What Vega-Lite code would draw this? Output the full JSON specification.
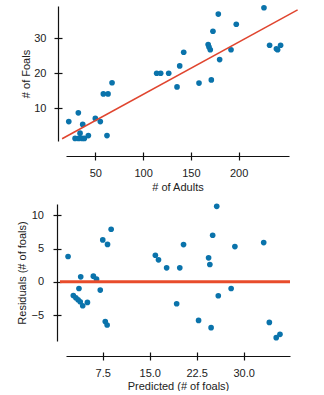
{
  "$schema": "https://vega.github.io/schema/vega-lite/v6.json",
  "autosize": "pad",
  "padding": {"left": 16, "top": 4, "right": 0, "bottom": 0},
  "background": "white",
  "spacing": 11,
  "align": "none",
  "config": {
    "view": {"stroke": null},
    "axis": {
      "grid": false,
      "labelFont": "Liberation Sans",
      "titleFont": "Liberation Sans",
      "labelFontSize": 11,
      "titleFontSize": 11,
      "titleFontWeight": "normal",
      "labelColor": "#222222",
      "titleColor": "#222222",
      "domainColor": "#111111",
      "tickColor": "#111111",
      "domainWidth": 1.2,
      "tickWidth": 1.2
    }
  },
  "vconcat": [
    {
      "width": 223,
      "height": 135,
      "layer": [
        {
          "data": {"values": [
            {"adults": 22.2, "foals": 6.2}, {"adults": 32.2, "foals": 8.7}, {"adults": 36.8, "foals": 5.4},
            {"adults": 34, "foals": 2.9}, {"adults": 28.8, "foals": 1.4}, {"adults": 32.5, "foals": 1.4},
            {"adults": 36, "foals": 1.4}, {"adults": 38.5, "foals": 1.4}, {"adults": 42.7, "foals": 2.2},
            {"adults": 50, "foals": 7.1}, {"adults": 55.2, "foals": 6.2}, {"adults": 62.2, "foals": 2.2},
            {"adults": 58.4, "foals": 14.1}, {"adults": 63.3, "foals": 14.1}, {"adults": 67.5, "foals": 17.3},
            {"adults": 114.2, "foals": 20}, {"adults": 118.4, "foals": 20}, {"adults": 126.8, "foals": 20},
            {"adults": 135.5, "foals": 16.1}, {"adults": 138.3, "foals": 22.1}, {"adults": 142.5, "foals": 26},
            {"adults": 158.5, "foals": 17.2}, {"adults": 168.1, "foals": 28.2}, {"adults": 170.3, "foals": 26.7},
            {"adults": 169, "foals": 27.5}, {"adults": 171.4, "foals": 18.1}, {"adults": 173.1, "foals": 32},
            {"adults": 178.7, "foals": 36.9}, {"adults": 180.1, "foals": 23.9}, {"adults": 192, "foals": 26.7},
            {"adults": 197.5, "foals": 34}, {"adults": 226.5, "foals": 38.7}, {"adults": 232.4, "foals": 28},
            {"adults": 240.8, "foals": 26.7}, {"adults": 239.5, "foals": 27}, {"adults": 243.9, "foals": 28}
          ]},
          "mark": {"type": "circle", "size": 32, "opacity": 1, "color": "#0a73ab"},
          "encoding": {
            "x": {"field": "adults", "type": "quantitative",
              "scale": {"domain": [19.3, 252.7], "nice": false, "zero": false},
              "axis": {"title": "# of Adults", "values": [50, 100, 150, 200], "offset": 15, "tickSize": 4, "labelPadding": 7.5, "titlePadding": 2.5}},
            "y": {"field": "foals", "type": "quantitative",
              "scale": {"domain": [0.66, 39.2], "nice": false, "zero": false},
              "axis": {"title": "# of Foals", "values": [10, 20, 30], "offset": 8, "tickSize": 4, "labelPadding": 8, "titlePadding": 2}}
          }
        },
        {
          "data": {"values": [{"adults": 15.2, "foals": 1.3}, {"adults": 261.7, "foals": 38.1}]},
          "mark": {"type": "line", "clip": false, "color": "#e0452f", "strokeWidth": 1.5},
          "encoding": {
            "x": {"field": "adults", "type": "quantitative",
              "axis": {"orient": "bottom", "values": [50, 100, 150, 200], "offset": 15, "tickSize": -4, "labels": false, "domain": false, "title": null}},
            "y": {"field": "foals", "type": "quantitative",
              "axis": {"orient": "left", "values": [10, 20, 30], "offset": 8, "tickSize": -4, "labels": false, "domain": false, "title": null}}
          }
        }
      ],
      "resolve": {"axis": {"x": "independent", "y": "independent"}}
    },
    {
      "width": 224,
      "height": 137,
      "layer": [
        {
          "data": {"values": [
            {"pred": 1.96, "resid": 3.8}, {"pred": 3.98, "resid": 0.75}, {"pred": 3.7, "resid": -1.0},
            {"pred": 2.8, "resid": -2.06}, {"pred": 3.2, "resid": -2.4}, {"pred": 3.56, "resid": -2.7},
            {"pred": 3.9, "resid": -3.0}, {"pred": 4.3, "resid": -3.6}, {"pred": 5.05, "resid": -3.1},
            {"pred": 6.0, "resid": 0.85}, {"pred": 6.5, "resid": 0.4}, {"pred": 7.1, "resid": -1.25},
            {"pred": 7.5, "resid": 6.3}, {"pred": 8.26, "resid": 5.62}, {"pred": 8.84, "resid": 7.9},
            {"pred": 7.9, "resid": -5.98}, {"pred": 8.2, "resid": -6.5}, {"pred": 15.9, "resid": 4.0},
            {"pred": 16.4, "resid": 3.3}, {"pred": 17.7, "resid": 2.1}, {"pred": 19.3, "resid": -3.3},
            {"pred": 19.8, "resid": 2.1}, {"pred": 20.4, "resid": 5.6}, {"pred": 22.8, "resid": -5.8},
            {"pred": 24.4, "resid": 3.6}, {"pred": 24.6, "resid": 2.6}, {"pred": 25.05, "resid": 7.0},
            {"pred": 24.8, "resid": -6.9}, {"pred": 25.7, "resid": 11.35}, {"pred": 25.95, "resid": -2.1},
            {"pred": 28.0, "resid": -1.0}, {"pred": 28.6, "resid": 5.3}, {"pred": 33.2, "resid": 5.9},
            {"pred": 34.1, "resid": -6.1}, {"pred": 35.2, "resid": -8.4}, {"pred": 35.8, "resid": -7.9}
          ]},
          "mark": {"type": "circle", "size": 32, "opacity": 1, "color": "#0a73ab"},
          "encoding": {
            "x": {"field": "pred", "type": "quantitative",
              "scale": {"domain": [1.63, 37.4], "nice": false, "zero": false},
              "axis": {"title": "Predicted (# of foals)", "values": [7.5, 15, 22.5, 30], "format": ".1f", "offset": 15, "tickSize": 4, "labelPadding": 7, "titlePadding": 2}},
            "y": {"field": "resid", "type": "quantitative",
              "scale": {"domain": [-8.9, 11.7], "nice": false, "zero": false},
              "axis": {"title": "Residuals (# of foals)", "values": [-5, 0, 5, 10], "offset": 9, "tickSize": 4, "labelPadding": 9.5, "titlePadding": 3}}
          }
        },
        {
          "data": {"values": [{"pred": 0.67, "resid": 0}, {"pred": 37.4, "resid": 0}]},
          "mark": {"type": "line", "clip": false, "color": "#e84c2b", "strokeWidth": 3},
          "encoding": {
            "x": {"field": "pred", "type": "quantitative",
              "axis": {"orient": "bottom", "values": [7.5, 15, 22.5, 30], "offset": 15, "tickSize": -4, "labels": false, "domain": false, "title": null}},
            "y": {"field": "resid", "type": "quantitative",
              "axis": {"orient": "left", "values": [-5, 0, 5, 10], "offset": 9, "tickSize": -4, "labels": false, "domain": false, "title": null}}
          }
        }
      ],
      "resolve": {"axis": {"x": "independent", "y": "independent"}}
    }
  ]
}
